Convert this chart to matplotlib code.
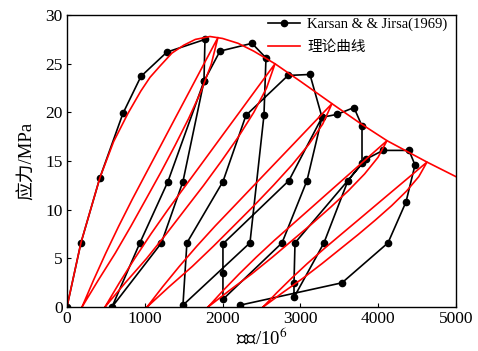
import matplotlib
matplotlib.use('Agg')
import matplotlib.pyplot as plt

exp_strain = [0, 180, 424, 720, 951, 1285, 1774,
              1761, 1491, 1215, 578,
              938, 1298, 1761, 1967,
              2378, 2558,
              2532, 2352, 1491,
              1542, 2005, 2301, 2841, 3123,
              3278, 3085, 2764, 2005,
              2005, 2005, 2853, 3278, 3470, 3689,
              3792, 3792, 3612, 3303, 2918,
              2918, 2931, 3843, 4062, 4396, 4473,
              4357, 4126, 3535, 2224]
exp_stress = [0, 6.6, 13.3, 19.9, 23.7, 26.2, 27.5,
              23.2, 12.9, 6.6, 0,
              6.6, 12.9, 23.2, 26.3,
              27.1, 25.6,
              19.7, 6.6, 0.2,
              6.6, 12.9, 19.7, 23.8, 23.9,
              19.5, 13.0, 6.6, 0.8,
              3.5, 6.5, 13.0, 19.5, 19.8, 20.5,
              18.6, 14.8, 13.0, 6.6, 1.0,
              2.5, 6.6, 15.2, 16.1, 16.1, 14.6,
              10.8, 6.6, 2.5, 0.2]

# theoretical envelope
env_strain = [0, 180, 424, 600, 784, 950, 1067, 1200, 1350, 1500, 1650, 1838,
              2000, 2200, 2400, 2674, 3000, 3406, 3766, 4113, 4627, 5000]
env_stress = [0, 6.6, 13.3, 17.0, 19.9, 22.2, 23.6, 24.8, 26.1, 26.9, 27.5, 27.8,
              27.6, 27.1, 26.3, 25.0, 23.2, 20.9, 18.9, 17.1, 14.9, 13.4]

# theoretical loops: reloading up to the envelope, then unloading back down
loop_strain = [
    [193, 342, 499, 665, 840, 1023, 1207, 1390, 1574, 1757, 1941,
     1854, 1723, 1565, 1390, 1207, 1015, 822, 621, 403, 193],
    [488, 674, 871, 1078, 1297, 1526, 1756, 1985, 2215, 2444, 2674,
     2565, 2401, 2204, 1985, 1756, 1515, 1275, 1024, 750, 488],
    [1028, 1230, 1444, 1670, 1908, 2158, 2407, 2657, 2907, 3156, 3406,
     3287, 3109, 2895, 2657, 2407, 2146, 1884, 1611, 1313, 1028],
    [1812, 2008, 2215, 2433, 2663, 2905, 3147, 3388, 3630, 3871, 4113,
     3998, 3825, 3618, 3388, 3147, 2893, 2640, 2376, 2088, 1812],
    [2519, 2698, 2888, 3088, 3299, 3520, 3742, 3963, 4184, 4406, 4627,
     4522, 4364, 4174, 3963, 3742, 3510, 3278, 3035, 2772, 2519],
]
loop_stress = [
    [0, 2.77, 5.54, 8.31, 11.08, 13.85, 16.62, 19.39, 22.16, 24.93, 27.7,
     24.93, 22.16, 19.39, 16.62, 13.85, 11.08, 8.31, 5.54, 2.77, 0],
    [0, 2.5, 5.0, 7.5, 10.0, 12.5, 15.0, 17.5, 20.0, 22.5, 25.0,
     22.5, 20.0, 17.5, 15.0, 12.5, 10.0, 7.5, 5.0, 2.5, 0],
    [0, 2.09, 4.18, 6.27, 8.36, 10.45, 12.54, 14.63, 16.72, 18.81, 20.9,
     18.81, 16.72, 14.63, 12.54, 10.45, 8.36, 6.27, 4.18, 2.09, 0],
    [0, 1.71, 3.42, 5.13, 6.84, 8.55, 10.26, 11.97, 13.68, 15.39, 17.1,
     15.39, 13.68, 11.97, 10.26, 8.55, 6.84, 5.13, 3.42, 1.71, 0],
    [0, 1.49, 2.98, 4.47, 5.96, 7.45, 8.94, 10.43, 11.92, 13.41, 14.9,
     13.41, 11.92, 10.43, 8.94, 7.45, 5.96, 4.47, 2.98, 1.49, 0],
]

x_ticks = [0, 1000, 2000, 3000, 4000, 5000]
y_ticks = [0, 5, 10, 15, 20, 25, 30]

plt.rcParams['font.family'] = ['Liberation Serif', 'Noto Sans CJK SC']
plt.rcParams['mathtext.fontset'] = 'stix'

fig = plt.figure(figsize=(4.78, 3.51), dpi=100)
ax = fig.add_axes([0.140, 0.125, 0.814, 0.832])

ax.plot(exp_strain, exp_stress, '-o', color='black', lw=1.2, ms=4.5,
        label='Karsan & & Jirsa(1969)')
ax.plot(env_strain, env_stress, color='red', lw=1.2, label='理论曲线')
for xs, ys in zip(loop_strain, loop_stress):
    ax.plot(xs, ys, color='red', lw=1.2)

ax.set_xlim(0, 5000)
ax.set_ylim(0, 30)
ax.set_xticks(x_ticks)
ax.set_yticks(y_ticks)
ax.tick_params(direction='in', labelsize=12.5, length=3, width=0.8, pad=3)
for s in ax.spines.values():
    s.set_linewidth(1.0)

ax.set_xlabel('应变/10$^6$', fontsize=13.5, labelpad=0)
ax.set_ylabel('应力/MPa', fontsize=13.5, labelpad=7)

ax.legend(loc='upper right', bbox_to_anchor=(1.012, 1.035), frameon=False,
          fontsize=10.5, handlelength=2.2, handletextpad=0.5, labelspacing=0.6)

fig.savefig('out.png', dpi=100)
